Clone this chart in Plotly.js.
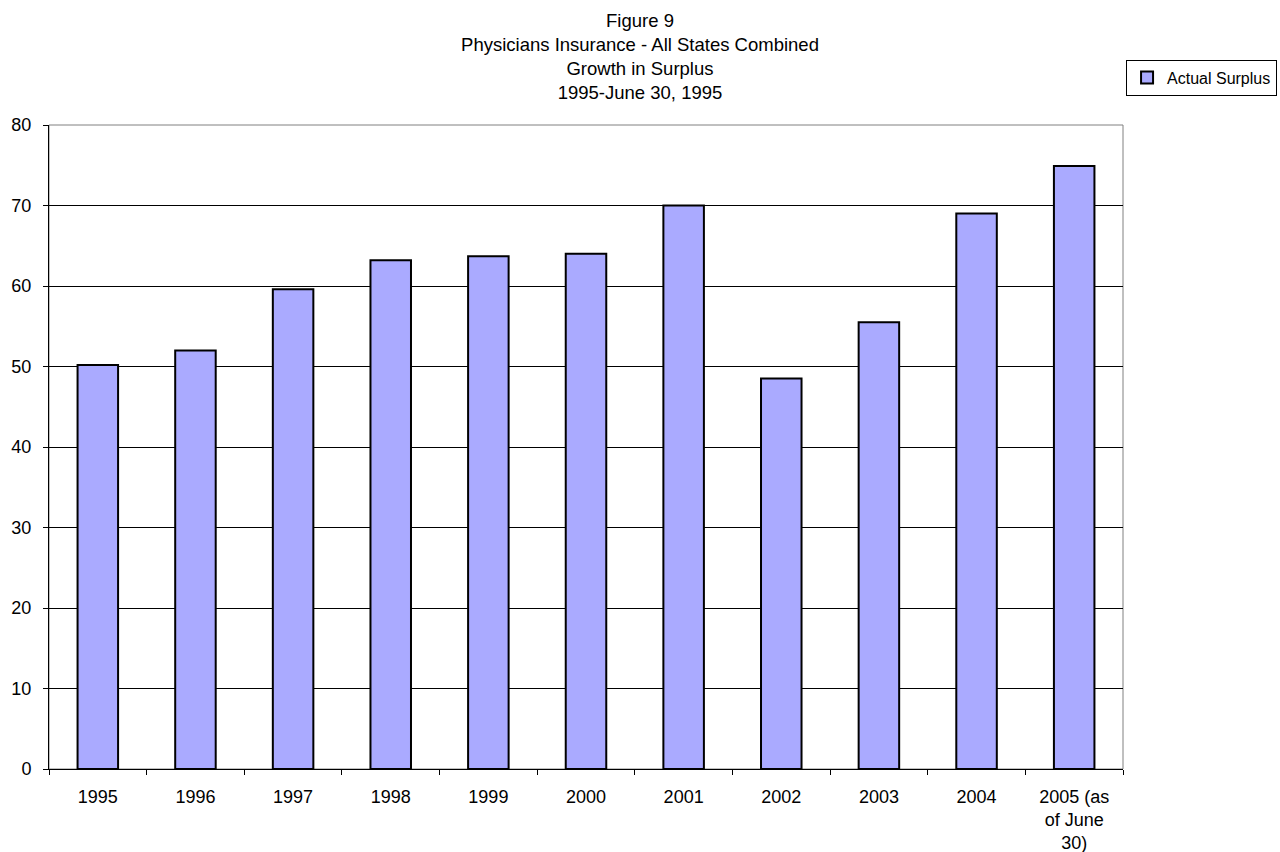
<!DOCTYPE html>
<html>
<head>
<meta charset="utf-8">
<script src="https://cdn.plot.ly/plotly-3.0.1.min.js"></script>
<style>html,body{margin:0;padding:0;background:#fff;}#chart{width:1280px;height:852px;}</style>
</head>
<body>
<div id="chart"></div>
<script>
const categories = ["1995","1996","1997","1998","1999","2000","2001","2002","2003","2004","2005 (as<br>of June<br>30)"];
const actualSurplus = [50.2, 52.0, 59.6, 63.2, 63.7, 64.0, 70.0, 48.5, 55.5, 69.0, 74.9];
const yTicks = [0,10,20,30,40,50,60,70,80];
const seriesName = "Actual Surplus";
const titleText = "Figure 9<br>Physicians Insurance - All States Combined<br>Growth in Surplus<br>1995-June 30, 1995";

const FONT = {family: "Liberation Sans, Arial, sans-serif", size: 18, color: "#000"};

const trace = {
  type: "bar",
  x: categories,
  y: actualSurplus,
  name: seriesName,
  marker: {color: "#aaaaff", line: {color: "#000", width: 2}},
  showlegend: true,
  hoverinfo: "x+y"
};

const layout = {
  width: 1280, height: 852,
  paper_bgcolor: "#fff", plot_bgcolor: "#fff",
  font: FONT,
  margin: {l: 49, r: 157, t: 125, b: 83},
  title: {text: titleText, font: {family: FONT.family, size: 18.5, color: "#000"}, x: 0.5, xanchor: "center", y: 0.968, yanchor: "top"},
  bargap: 0.585,
  showlegend: true,
  legend: {xref: "container", yref: "container", x: 0.9977, xanchor: "right", y: 0.93, yanchor: "top",
           bordercolor: "#000", borderwidth: 1, bgcolor: "#fff",
           font: {family: FONT.family, size: 16, color: "#000"}, itemwidth: 30},
  xaxis: {
    type: "category", tickson: "boundaries", ticks: "outside", ticklen: 5, tickcolor: "#000",
    ticklabelstandoff: 11,
    showline: true, linecolor: "#000", linewidth: 1, showgrid: false, tickfont: FONT, zeroline: false, automargin: false
  },
  yaxis: {
    range: [0, 80], tickvals: yTicks, ticks: "outside", ticklen: 5, tickcolor: "#000",
    ticklabelstandoff: 8,
    showline: true, linecolor: "#000", linewidth: 1, showgrid: true, gridcolor: "#000", gridwidth: 1,
    zeroline: false, tickfont: FONT, automargin: false, fixedrange: true
  },
  shapes: [{type: "rect", xref: "paper", yref: "paper", x0: 0, x1: 1, y0: 0, y1: 1, line: {color: "#808080", width: 1}, layer: "below"}]
};

Plotly.newPlot("chart", [trace], layout, {displayModeBar: false, staticPlot: true});
</script>
</body>
</html>
